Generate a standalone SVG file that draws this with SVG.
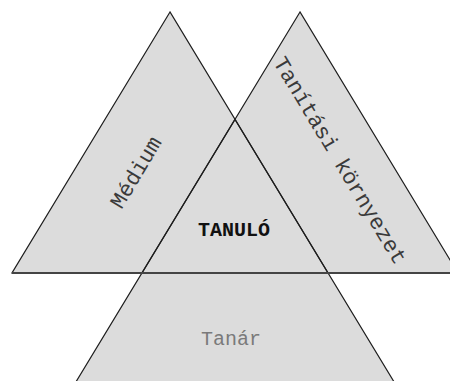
<svg xmlns="http://www.w3.org/2000/svg" xmlns:xlink="http://www.w3.org/1999/xlink" width="450" height="381" viewBox="0 0 450 381">
<style>
.tri{fill:#dcdcdc;stroke:none}
.edge{fill:none;stroke:#1e1e1e;stroke-width:1.2;stroke-linejoin:miter}
.lbl{font-family:"Liberation Mono","DejaVu Sans Mono",monospace;font-size:20px;fill:#3a3a3a;text-anchor:middle}
.side{font-size:22px}
.center{font-weight:bold;fill:#111}
.gray{fill:#7a7a7a}
</style>
<defs>
<polygon id="shapeMedium" points="170,12 12,273 328,273"/>
<polygon id="shapeKorny" points="300,12 142,273 458,273"/>
<polygon id="shapeTanar" points="235,119.4 68,395 402,395"/>
</defs>
<rect width="450" height="381" fill="#ffffff"/>
<g id="tanar">
<use xlink:href="#shapeTanar" class="tri"/>
<text class="lbl gray" x="231" y="345">Tanár</text>
</g>
<g id="medium">
<use xlink:href="#shapeMedium" class="tri"/>
<text class="lbl side" transform="translate(142,176) rotate(-59)" x="0" y="0">Médium</text>
</g>
<g id="kornyezet">
<use xlink:href="#shapeKorny" class="tri"/>
<text class="lbl side" transform="translate(334,164) rotate(59)" x="0" y="0">Tanítási környezet</text>
</g>
<g id="tanulo">
<text class="lbl center" x="234" y="236">TANULÓ</text>
</g>
<g id="connectors">
<use xlink:href="#shapeTanar" class="edge"/>
<use xlink:href="#shapeMedium" class="edge"/>
<use xlink:href="#shapeKorny" class="edge"/>
<line x1="12" y1="273" x2="450" y2="273" stroke="#444" stroke-width="2"/>
</g>
</svg>
